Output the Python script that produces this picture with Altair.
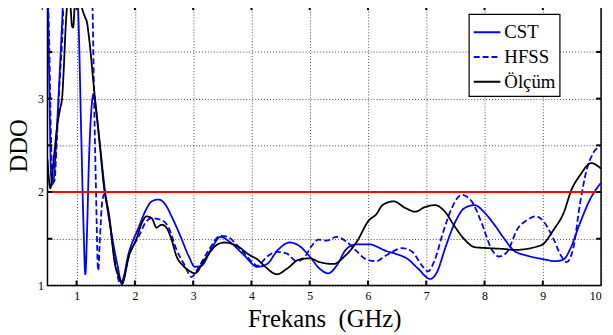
import altair as alt
import pandas as pd

# ---- data ----
series_names = ["CST", "HFSS", "Ölçüm"]

cst_f = [0.50, 0.52, 0.54, 0.56, 0.58, 0.61, 0.65, 0.70, 0.75, 0.78, 0.85, 1.00, 1.03, 1.08, 1.12, 1.15,
         1.18, 1.21, 1.25, 1.29, 1.33, 1.40, 1.50, 1.60, 1.70, 1.77,
         1.90, 2.07, 2.19, 2.29, 2.41, 2.53, 2.63, 2.78, 2.92, 3.03, 3.14, 3.31, 3.47, 3.64, 3.88,
         4.10, 4.27, 4.44, 4.66, 4.83, 5.00, 5.17, 5.32, 5.46, 5.63, 5.80, 6.02, 6.31, 6.47, 6.69,
         6.86, 7.07, 7.19, 7.32, 7.49, 7.66, 7.83, 8.00, 8.17, 8.34, 8.51, 8.73, 9.02, 9.22, 9.36,
         9.47, 9.64, 9.81, 10.0]
cst_v = [4.30, 3.60, 2.80, 2.20, 2.08, 2.15, 2.55, 3.15, 3.80, 4.20, 4.30, 4.30, 3.90, 2.60, 1.60, 1.12,
         1.60, 2.30, 2.85, 3.05, 2.90, 2.50, 1.95, 1.55, 1.22, 1.04,
         1.36, 1.63, 1.81, 1.90, 1.92, 1.86, 1.74, 1.53, 1.32, 1.20, 1.21, 1.39, 1.52, 1.46, 1.32,
         1.20, 1.23, 1.37, 1.46, 1.42, 1.31, 1.18, 1.13, 1.21, 1.39, 1.44, 1.44, 1.37, 1.34, 1.28,
         1.18, 1.07, 1.15, 1.39, 1.67, 1.83, 1.86, 1.78, 1.65, 1.50, 1.37, 1.32, 1.28, 1.26, 1.28,
         1.39, 1.67, 1.92, 2.10]

hfss_f = [0.50, 0.53, 0.56, 0.59, 0.62, 0.66, 0.71, 0.75, 0.79, 0.85, 1.20, 1.27, 1.30, 1.33, 1.37,
          1.40, 1.44, 1.48, 1.55, 1.65, 1.76,
          1.90, 2.07, 2.19, 2.29, 2.46, 2.58, 2.71, 2.86, 2.97, 3.08, 3.25, 3.47, 3.59, 3.81, 4.05,
          4.10, 4.27, 4.44, 4.61, 4.78, 4.92, 5.03, 5.15, 5.29, 5.46, 5.63, 5.80, 5.97, 6.14, 6.31,
          6.59, 6.76, 6.93, 7.03, 7.15, 7.29, 7.44, 7.61, 7.78, 7.95, 8.12, 8.25, 8.39, 8.56, 8.73,
          8.88, 9.02, 9.19, 9.32, 9.41, 9.53, 9.64, 9.75, 9.86, 10.0]
hfss_v = [4.30, 3.60, 2.60, 2.10, 2.12, 2.55, 3.20, 3.60, 4.20, 4.30, 4.30, 4.00, 3.00, 2.10, 1.16,
          1.50, 1.90, 1.98, 1.75, 1.30, 1.00,
          1.32, 1.53, 1.68, 1.72, 1.70, 1.62, 1.39, 1.21, 1.09, 1.18, 1.36, 1.53, 1.52, 1.39, 1.23,
          1.21, 1.31, 1.36, 1.34, 1.26, 1.31, 1.42, 1.49, 1.48, 1.52, 1.47, 1.37, 1.28, 1.26, 1.32,
          1.40, 1.36, 1.21, 1.15, 1.28, 1.57, 1.83, 1.97, 1.90, 1.67, 1.39, 1.31, 1.36, 1.60, 1.70,
          1.74, 1.68, 1.49, 1.31, 1.25, 1.42, 1.88, 2.23, 2.41, 2.50]

olc_f = [0.50, 0.55, 0.61, 0.67, 0.72, 0.75, 0.78, 0.81, 0.84, 0.87, 0.90, 0.92, 0.94, 0.97, 1.00,
         1.05, 1.09, 1.14, 1.18, 1.21, 1.30, 1.40, 1.47, 1.56, 1.66, 1.72, 1.78,
         1.90, 2.02, 2.12, 2.20, 2.29, 2.37, 2.46, 2.54, 2.63, 2.71, 2.83, 2.95, 3.03, 3.20, 3.42,
         3.54, 3.76, 3.98, 4.10, 4.22, 4.44, 4.61, 4.83, 5.00, 5.17, 5.41, 5.58, 5.80, 6.02, 6.14,
         6.25, 6.44, 6.64, 6.81, 6.98, 7.15, 7.32, 7.49, 7.66, 7.83, 8.05, 8.34, 8.51, 8.97, 9.19,
         9.36, 9.49, 9.64, 9.83, 10.0]
olc_v = [2.35, 2.04, 2.37, 2.72, 2.90, 3.00, 3.32, 3.74, 4.02, 4.15, 3.95, 3.78, 3.76, 4.02, 4.15,
         4.15, 3.98, 3.88, 3.81, 3.67, 3.10, 2.50, 2.05, 1.74, 1.22, 1.10, 1.02,
         1.32, 1.49, 1.67, 1.74, 1.72, 1.62, 1.65, 1.62, 1.49, 1.32, 1.21, 1.15, 1.13, 1.28, 1.44,
         1.46, 1.42, 1.32, 1.28, 1.21, 1.12, 1.18, 1.28, 1.29, 1.25, 1.23, 1.30, 1.46, 1.70, 1.76,
         1.86, 1.90, 1.83, 1.79, 1.84, 1.86, 1.79, 1.63, 1.49, 1.41, 1.40, 1.39, 1.38, 1.43, 1.60,
         1.78, 2.02, 2.18, 2.31, 2.25]

x_tick_values = [1, 2, 3, 4, 5, 6, 7, 8, 9, 10]
y_tick_values = [1, 1.5, 2, 2.5, 3, 3.5, 4]
x_inner_ticks = [1, 2, 3, 4, 5, 6, 7, 8, 9]
y_inner_ticks = [1.5, 2, 2.5, 3, 3.5]
threshold = 2

# ---- build table ----
rows = []
for name, fs, vs in [("CST", cst_f, cst_v), ("HFSS", hfss_f, hfss_v), ("Ölçüm", olc_f, olc_v)]:
    for i, (f, v) in enumerate(zip(fs, vs)):
        rows.append({"f": f, "v": v, "series": name, "i": i})
df = pd.DataFrame(rows)

W, H = 561, 284
FONT = "Liberation Serif"

xscale = alt.Scale(domain=[0.5, 10], nice=False, zero=False)
yscale = alt.Scale(domain=[1, 4], nice=False, zero=False)

leg = alt.Legend(title=None, orient="none", legendX=427, legendY=9,
                 labelExpr="datum.label + '\u00a0\u00a0\u00a0\u00a0\u00a0'")

lines = alt.Chart(df).mark_line(strokeWidth=1.8, clip=True, interpolate="monotone").encode(
    x=alt.X("f:Q", scale=xscale,
            axis=alt.Axis(values=x_tick_values, title="Frekans\u00a0 (GHz)", labelPadding=5,
                          titlePadding=6, format="d")),
    y=alt.Y("v:Q", scale=yscale,
            axis=alt.Axis(values=y_tick_values, title="DDO", labelPadding=4, titlePadding=6,
                          labelExpr="datum.value % 1 == 0 ? format(datum.value, 'd') : ''")),
    order="i:Q",
    color=alt.Color("series:N",
                    scale=alt.Scale(domain=series_names, range=["#0000ff", "#0000ff", "#000000"]),
                    legend=leg),
    strokeDash=alt.StrokeDash("series:N",
                              scale=alt.Scale(domain=series_names, range=[[1, 0], [6, 3], [1, 0]]),
                              legend=leg),
)

red = alt.Chart(pd.DataFrame({"t": [threshold]})).mark_rule(color="#ff0000", strokeWidth=2).encode(
    y=alt.Y("t:Q", scale=yscale)
)

xt_df = pd.DataFrame({"x": x_inner_ticks})
yt_df = pd.DataFrame({"y": y_inner_ticks})
tick_style = dict(color="black", strokeWidth=2)
bt = alt.Chart(xt_df).mark_rule(**tick_style).encode(
    x=alt.X("x:Q", scale=xscale), y=alt.value(H), y2=alt.value(H - 5))
tt = alt.Chart(xt_df).mark_rule(**tick_style).encode(
    x=alt.X("x:Q", scale=xscale), y=alt.value(0), y2=alt.value(5))
lt = alt.Chart(yt_df).mark_rule(**tick_style).encode(
    y=alt.Y("y:Q", scale=yscale), x=alt.value(0), x2=alt.value(5))
rt = alt.Chart(yt_df).mark_rule(**tick_style).encode(
    y=alt.Y("y:Q", scale=yscale), x=alt.value(W), x2=alt.value(W - 5))

chart = alt.layer(lines, red, bt, tt, lt, rt).properties(
    width=W, height=H,
    padding={"left": 40, "top": -5, "right": 4, "bottom": 46},
    autosize=alt.AutoSizeParams(type="none"),
    background="white",
).configure_view(
    stroke="black", strokeWidth=1.5
).configure_axis(
    domain=False, ticks=False, grid=True, gridColor="black", gridDash=[1, 2], gridWidth=0.8,
    gridOpacity=0.9, labelFont=FONT, labelFontSize=12, labelColor="black",
    titleFont=FONT, titleFontSize=25, titleFontWeight="normal", titleColor="black",
).configure_legend(
    fillColor="white", strokeColor="black", strokeWidth=1.2, padding=4,
    labelFont=FONT, labelFontSize=19, labelColor="black", labelOffset=3,
    symbolType="stroke", symbolSize=729, symbolStrokeWidth=2, rowPadding=0,
)

chart.save("out.html", embed_options={"renderer": "svg", "actions": False})
